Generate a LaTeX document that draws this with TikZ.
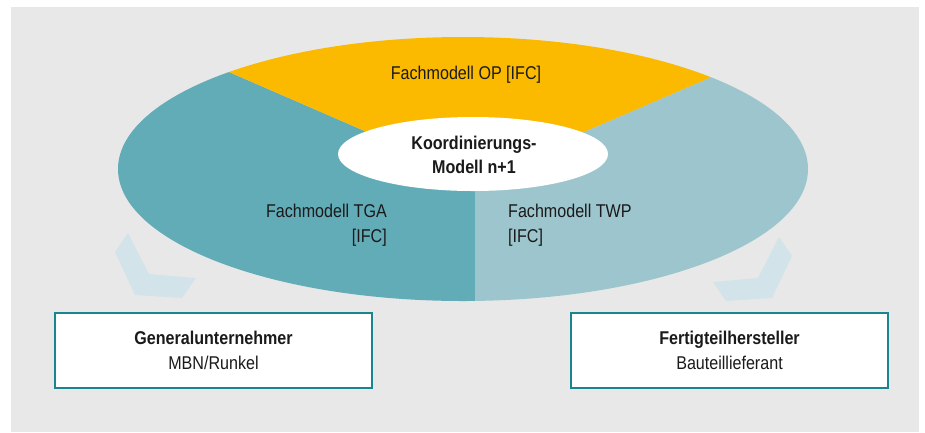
\documentclass[tikz,border=0pt]{standalone}
\usepackage{fontspec}
\setmainfont{Liberation Sans}[FakeStretch=0.87]
\definecolor{bggray}{HTML}{E8E8E8}
\definecolor{tgateal}{HTML}{62ACB8}
\definecolor{opyellow}{HTML}{FBBA00}
\definecolor{twplight}{HTML}{9DC5CD}
\definecolor{chevron}{HTML}{D2E4EA}
\definecolor{boxline}{HTML}{18858F}
\definecolor{ink}{HTML}{1A1A1A}
\begin{document}
\begin{tikzpicture}[x=1pt,y=-1pt,
  lbl/.style={inner sep=0pt, text=ink, font=\fontsize{18.5}{25}\selectfont},
  partybox/.style={draw=boxline, line width=2pt, fill=white, minimum width=317pt,
    minimum height=75pt, align=center, text=ink, font=\fontsize{18.5}{25}\selectfont},
  arrowshape/.style={fill=chevron}]
\useasboundingbox (0,0) rectangle (925,432);
% panel background
\fill[bggray] (11,7) rectangle (919,432);

% the three sectors of the model ring
\begin{scope}
  \clip (463,169) ellipse [x radius=345pt, y radius=132pt];
  \fill[tgateal] (475,179) -- (-17,-35) -- (-17,400) -- (475,400) -- cycle;
  \fill[opyellow] (475,179) -- (-17,-35) -- (949,-35) -- (949,-25) -- cycle;
  \fill[twplight] (475,179) -- (949,-25) -- (949,400) -- (475,400) -- cycle;
\end{scope}

% coordination model in the middle
\fill[white] (473,154) ellipse [x radius=135pt, y radius=37pt];

% return arrows below the ring
\fill[arrowshape] (128,233) -- (115,252) -- (135,295) -- (182,298) -- (196,278) -- (149,274) -- cycle;
\fill[arrowshape] (779,237) -- (792,256) -- (772,298) -- (726,301) -- (713,282) -- (758,278) -- cycle;

% labels
\node[lbl] (op) at (466,75) {Fachmodell OP [IFC]};
\node[lbl, align=center, font=\fontsize{18.5}{24}\selectfont\bfseries] (koord) at (474,155)
  {Koordinierungs-\\Modell n+1};
\node[lbl, align=right, anchor=east] (tga) at (387,225) {Fachmodell TGA\\{}[IFC]};
\node[lbl, align=left, anchor=west] (twp) at (508,225) {Fachmodell TWP\\{}[IFC]};

% parties
\node[partybox] (gu) at (213.5,350.5) {\textbf{Generalunternehmer}\\MBN/Runkel};
\node[partybox] (fh) at (729.5,350.5) {\textbf{Fertigteilhersteller}\\Bauteillieferant};
\end{tikzpicture}
\end{document}
